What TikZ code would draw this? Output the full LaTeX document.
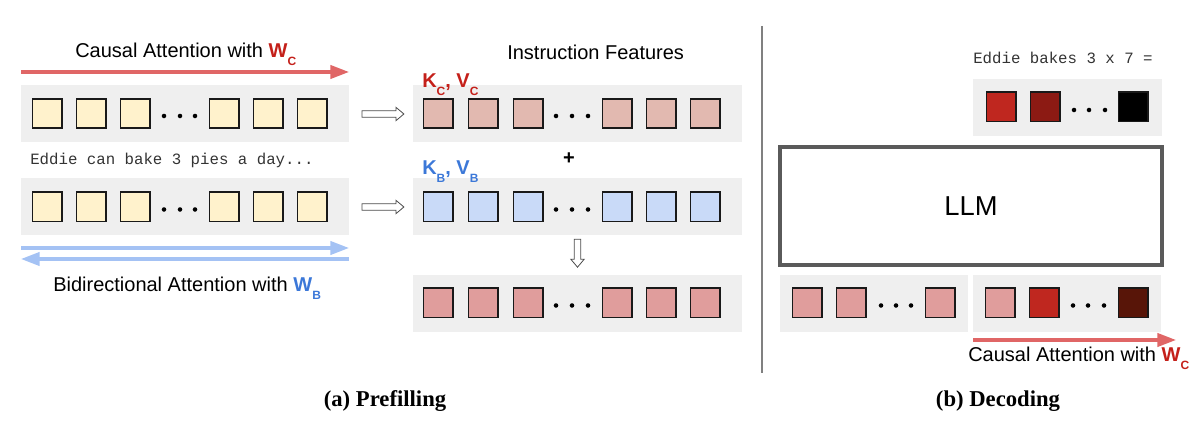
\documentclass[tikz,border=0pt]{standalone}
\usepackage{fontspec}
\setmainfont{Liberation Sans}
\newfontfamily\monof{Liberation Mono}
\newfontfamily\capf{Liberation Serif}
\usetikzlibrary{arrows.meta,shapes.arrows,calc}
\definecolor{bandgray}{HTML}{EFEFEF}
\definecolor{beige}{HTML}{FFF2CC}
\definecolor{rosy}{HTML}{E2B9B0}
\definecolor{lblue}{HTML}{C9DAF8}
\definecolor{pinkred}{HTML}{E09D9C}
\definecolor{bred}{HTML}{BF271F}
\definecolor{dred}{HTML}{8C1A13}
\definecolor{brown}{HTML}{581508}
\definecolor{arrred}{HTML}{E06666}
\definecolor{arrblue}{HTML}{A4C2F4}
\definecolor{txtred}{HTML}{C4201A}
\definecolor{txtblue}{HTML}{3C78D8}
\definecolor{llmgray}{HTML}{5A5A5A}
\definecolor{sepgray}{HTML}{808080}
\newcommand{\mysub}[1]{\raisebox{-5.5pt}{\fontsize{9}{10}\selectfont\bfseries #1}}
\tikzset{
  band/.style={fill=bandgray, draw=none, minimum height=42.75pt, inner sep=0pt, outer sep=0pt},
  sq/.style={draw=black!90, line width=1.25pt, fill=#1, minimum size=22pt, inner sep=0pt, outer sep=0pt},
  lbl/.style={inner sep=0pt, anchor=base west, font=\fontsize{15}{18}\selectfont},
  mono/.style={inner sep=0pt, anchor=base west, font=\monof\fontsize{11.8}{14}\selectfont, text=black!80},
  capt/.style={inner sep=0pt, anchor=base, font=\capf\bfseries\fontsize{17}{20}\selectfont},
  attnred/.style={draw=arrred, line width=2.3pt, -{Triangle[length=14pt,width=10pt]}},
  attnblue/.style={draw=arrblue, line width=2.3pt, -{Triangle[length=14pt,width=10pt]}},
  hollowarr/.style={single arrow, draw=black!70, fill=white, line width=0.6pt,
    inner xsep=0pt, inner ysep=2.1pt, single arrow head extend=2.6pt,
    single arrow tip angle=80, minimum height=#1},
}
\begin{document}
\begin{tikzpicture}[x=0.75pt,y=-0.75pt]
\useasboundingbox (0,0) rectangle (1200,423);

% ---------- bands ----------
\node[band, minimum width=246pt] (L1) at (185,114) {};
\node[band, minimum width=246pt] (L2) at (185,207) {};
\node[band, minimum width=246.75pt] (M1) at (577.5,114) {};
\node[band, minimum width=246.75pt] (M2) at (577.5,207) {};
\node[band, minimum width=246.75pt] (M3) at (577.5,303.5) {};
\node[band, minimum width=141.75pt] (DT) at (1067.5,107.5) {};
\node[band, minimum width=141pt] (DBL) at (874,303.5) {};
\node[band, minimum width=141pt] (DBR) at (1067,303.5) {};

% ---------- left squares ----------
\foreach \x [count=\i] in {47,91,135,224,268,312}{
  \node[sq=beige] (la\i) at (\x,113.5) {};
  \node[sq=beige] (lb\i) at (\x,207) {};
}
\foreach \x in {164,180,195}{
  \fill (\x,116) circle (1.7pt);
  \fill (\x,209.5) circle (1.7pt);
}
% ---------- middle squares ----------
\foreach \x [count=\i] in {438,483,528,617,661,705}{
  \node[sq=rosy] (ma\i) at (\x,113.5) {};
  \node[sq=lblue] (mb\i) at (\x,207) {};
  \node[sq=pinkred] (mc\i) at (\x,303) {};
}
\foreach \x in {556,572,588}{
  \fill (\x,116) circle (1.7pt);
  \fill (\x,209.5) circle (1.7pt);
  \fill (\x,305.5) circle (1.7pt);
}
% ---------- decoding squares ----------
\node[sq=bred] (dt1) at (1001,107) {};
\node[sq=dred] (dt2) at (1045,107) {};
\node[sq=black] (dt3) at (1133,107) {};
\foreach \x in {1074,1089,1105}{ \fill (\x,110) circle (1.7pt); }
\node[sq=pinkred] (dl1) at (807,303) {};
\node[sq=pinkred] (dl2) at (851,303) {};
\node[sq=pinkred] (dl3) at (940,303) {};
\foreach \x in {881,896,911}{ \fill (\x,305.5) circle (1.7pt); }
\node[sq=pinkred] (dr1) at (1000,303) {};
\node[sq=bred] (dr2) at (1044,303) {};
\node[sq=brown] (dr3) at (1133,303) {};
\foreach \x in {1073,1088,1104}{ \fill (\x,305.5) circle (1.7pt); }

% ---------- LLM ----------
\node[draw=llmgray, line width=3pt, minimum width=286.5pt, minimum height=88.5pt, inner sep=0pt,
      font=\fontsize{20.5}{24}\selectfont] (llm) at (971,206) {LLM};

% ---------- separator ----------
\coordinate (sepT) at (762,26);
\coordinate (sepB) at (762,373);
\draw[sepgray, line width=1.5pt] (sepT) -- (sepB);

% ---------- attention arrows ----------
\coordinate (ca1) at (21,72);   \coordinate (ca2) at (349,72);
\coordinate (br1) at (21,248);  \coordinate (br2) at (349,248);
\coordinate (bl1) at (349,259); \coordinate (bl2) at (21,259);
\coordinate (dc1) at (973,340); \coordinate (dc2) at (1176,340);
\draw[attnred] (ca1) -- (ca2);
\draw[attnblue] (br1) -- (br2);
\draw[attnblue] (bl1) -- (bl2);
\draw[attnred] (dc1) -- (dc2);

% ---------- hollow arrows (between bands) ----------
\node[hollowarr=31.5pt] (h1) at ($(L1.east)!0.5!(M1.west)$) {};
\node[hollowarr=31.5pt] (h2) at ($(L2.east)!0.5!(M2.west)$) {};
\node[hollowarr=21pt, rotate=-90] (h3) at ($(M2.south)!0.4!(M3.north)$) {};

% ---------- texts ----------
\node[lbl] (tca) at (75,58) {Causal Attention with \textcolor{txtred}{\textbf{W}\mysub{C}}};
\node[lbl] (tba) at (53,292) {Bidirectional Attention with \textcolor{txtblue}{\textbf{W}\mysub{B}}};
\node[mono] (tin) at (30,165) {Eddie can bake 3 pies a day...};
\node[lbl] (tif) at (507,60) {Instruction Features};
\node[lbl, text=txtred, font=\bfseries\fontsize{15}{18}\selectfont] (kc) at (422,88) {K\mysub{C}, V\mysub{C}};
\node[lbl, text=txtblue, font=\bfseries\fontsize{15}{18}\selectfont] (kb) at (422,175) {K\mysub{B}, V\mysub{B}};
\node[inner sep=0pt, font=\bfseries\fontsize{15}{18}\selectfont] (plus) at (569,159) {+};
\node[mono] (tq) at (973,64) {Eddie bakes 3 x 7 =};
\node[lbl] (tdc) at (968,362) {Causal Attention with \textcolor{txtred}{\textbf{W}\mysub{C}}};
\node[capt] (capa) at (385,407) {(a) Prefilling};
\node[capt] (capb) at (998,407) {(b) Decoding};
\end{tikzpicture}
\end{document}
